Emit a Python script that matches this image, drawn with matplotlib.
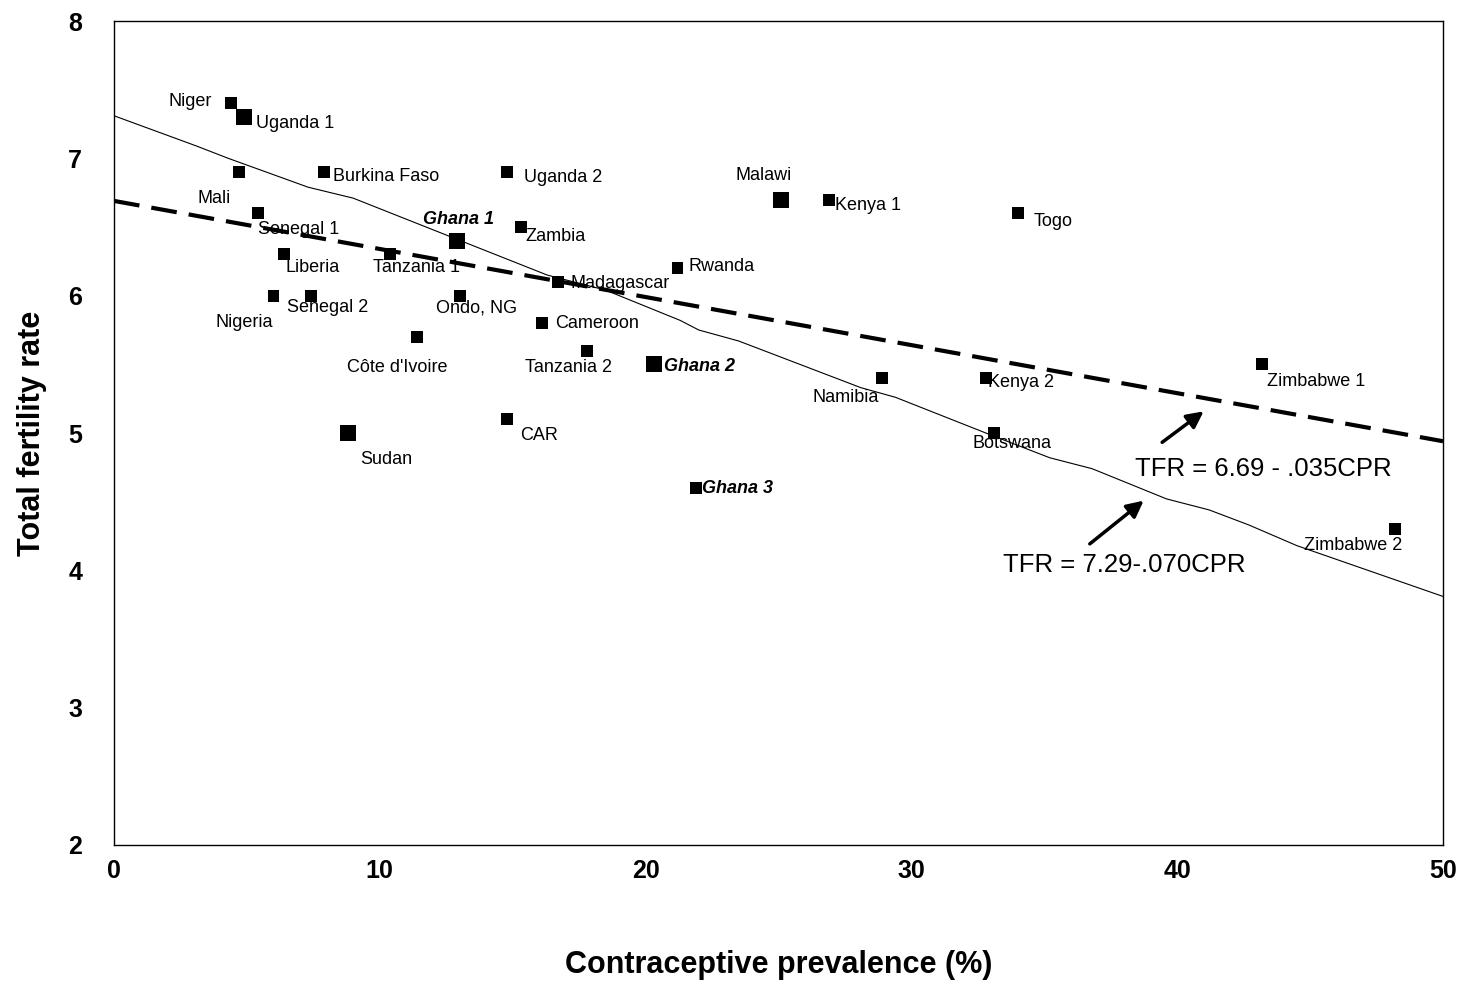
import matplotlib
matplotlib.use("Agg")
import matplotlib.pyplot as plt
import numpy as np

plt.rcParams['font.family'] = ['Liberation Sans', 'DejaVu Sans']

# countries: contraceptive prevalence (%) and total fertility rate
names = ["Niger", "Uganda 1", "Mali", "Burkina Faso", "Senegal 1", "Liberia",
         "Tanzania 1", "Ghana 1", "Nigeria", "Senegal 2", "Ondo, NG", "Uganda 2",
         "Zambia", "Madagascar", "Rwanda", "Cameroon", "Côte d'Ivoire",
         "Tanzania 2", "Ghana 2", "CAR", "Sudan", "Ghana 3", "Malawi", "Kenya 1",
         "Togo", "Namibia", "Kenya 2", "Botswana", "Zimbabwe 1", "Zimbabwe 2"]
cpr = [4.4, 4.9, 4.7, 7.9, 5.4, 6.4, 10.4, 12.9, 6.0, 7.4, 13.0, 14.8,
       15.3, 16.7, 21.2, 16.1, 11.4, 17.8, 20.3, 14.8, 8.8, 21.9, 25.1, 26.9,
       34.0, 28.9, 32.8, 33.1, 43.2, 48.2]
tfr = [7.4, 7.3, 6.9, 6.9, 6.6, 6.3, 6.3, 6.4, 6.0, 6.0, 6.0, 6.9,
       6.5, 6.1, 6.2, 5.8, 5.7, 5.6, 5.5, 5.1, 5.0, 4.6, 6.7, 6.7,
       6.6, 5.4, 5.4, 5.0, 5.5, 4.3]

# solid fitted line
fit_x = [0.0, 3.1, 4.3, 7.3, 9.0, 16.3, 18.5, 21.3, 22.0, 23.5, 28.1, 29.4,
         32.8, 35.2, 36.8, 39.6, 41.2, 42.7, 44.5, 50.0]
fit_y = [7.31, 7.09, 7.00, 6.79, 6.71, 6.15, 6.04, 5.82, 5.75, 5.67, 5.33, 5.26,
         5.00, 4.82, 4.74, 4.52, 4.44, 4.33, 4.18, 3.81]

# dashed regression line
dash_a = 6.69
dash_b = -0.035

# label placement (offset in pixels, horizontal alignment)
offsets = {
    "Niger": (-19, 2, 'right'), "Uganda 1": (12, -6, 'left'),
    "Mali": (-8, -26, 'right'), "Burkina Faso": (9, -4, 'left'),
    "Senegal 1": (0, -16, 'left'), "Liberia": (1, -13, 'left'),
    "Tanzania 1": (-17, -13, 'left'), "Ghana 1": (2, 21, 'center'),
    "Nigeria": (0, -27, 'right'), "Senegal 2": (-24, -12, 'left'),
    "Ondo, NG": (-24, -12, 'left'), "Uganda 2": (17, -5, 'left'),
    "Zambia": (5, -9, 'left'), "Madagascar": (13, -2, 'left'),
    "Rwanda": (11, 2, 'left'), "Cameroon": (13, 0, 'left'),
    "Côte d'Ivoire": (-70, -31, 'left'), "Tanzania 2": (-62, -17, 'left'),
    "Ghana 2": (10, -2, 'left'), "CAR": (13, -16, 'left'),
    "Sudan": (12, -26, 'left'), "Ghana 3": (6, -1, 'left'),
    "Malawi": (-18, 24, 'center'), "Kenya 1": (6, -6, 'left'),
    "Togo": (16, -8, 'left'), "Namibia": (-3, -19, 'right'),
    "Kenya 2": (2, -4, 'left'), "Botswana": (-21, -10, 'left'),
    "Zimbabwe 1": (5, -17, 'left'), "Zimbabwe 2": (7, -16, 'right'),
}
big = ["Uganda 1", "Ghana 1", "Ghana 2", "Sudan", "Malawi"]
bold = ["Ghana 1", "Ghana 2", "Ghana 3"]

fig = plt.figure(figsize=(14.72, 9.89), dpi=100)
ax = fig.add_axes([114/1472, 1-845/989, (1443-114)/1472, (845-21)/989])

sizes = [11.5**2 if n in big else 8.6**2 for n in names]
ax.scatter(cpr, tfr, s=sizes, marker='s', color='black', zorder=3, linewidths=0)

ax.plot(fit_x, fit_y, color='black', lw=0.8, zorder=2)
xx = np.array([0, 50])
ax.plot(xx, dash_a + dash_b*xx, color='black', lw=3, dashes=(6.2, 2.9), zorder=2)

for n, x, y in zip(names, cpr, tfr):
    dx, dy, ha = offsets[n]
    if n in bold:
        ax.annotate(n, (x, y), xytext=(dx*0.72, dy*0.72), textcoords='offset points',
                    ha=ha, va='center', fontsize=13, fontweight='bold', style='italic')
    else:
        ax.annotate(n, (x, y), xytext=(dx*0.72, dy*0.72), textcoords='offset points',
                    ha=ha, va='center', fontsize=13)

# equations with arrows
ax.annotate("", xy=(41.08, 5.17), xytext=(39.35, 4.92),
            arrowprops=dict(arrowstyle='-|>', lw=2.5, color='black', mutation_scale=25))
ax.annotate("", xy=(38.82, 4.52), xytext=(36.63, 4.18),
            arrowprops=dict(arrowstyle='-|>', lw=2.5, color='black', mutation_scale=25))
ax.text(38.4, 4.74, "TFR = 6.69 - .035CPR", fontsize=18.5, va='center', ha='left')
ax.text(33.43, 4.04, "TFR = 7.29-.070CPR", fontsize=18.5, va='center', ha='left')

ax.set_xlim(0, 50)
ax.set_ylim(2, 8)
ax.set_xticks([0, 10, 20, 30, 40, 50])
ax.set_yticks([2, 3, 4, 5, 6, 7, 8])
ax.tick_params(length=0, labelsize=18)
ax.tick_params(axis='y', pad=23)
ax.tick_params(axis='x', pad=10)
for lab in ax.get_xticklabels() + ax.get_yticklabels():
    lab.set_fontweight('bold')
for sp in ax.spines.values():
    sp.set_color('black')
    sp.set_linewidth(1)

ax.set_xlabel("Contraceptive prevalence (%)", fontsize=22, fontweight='bold')
ax.set_ylabel("Total fertility rate", fontsize=22, fontweight='bold')
ax.xaxis.set_label_coords(0.5, -(950-845)/824)
ax.yaxis.set_label_coords((47-114)/1329, 0.5)

plt.savefig("out.png", dpi=100)
